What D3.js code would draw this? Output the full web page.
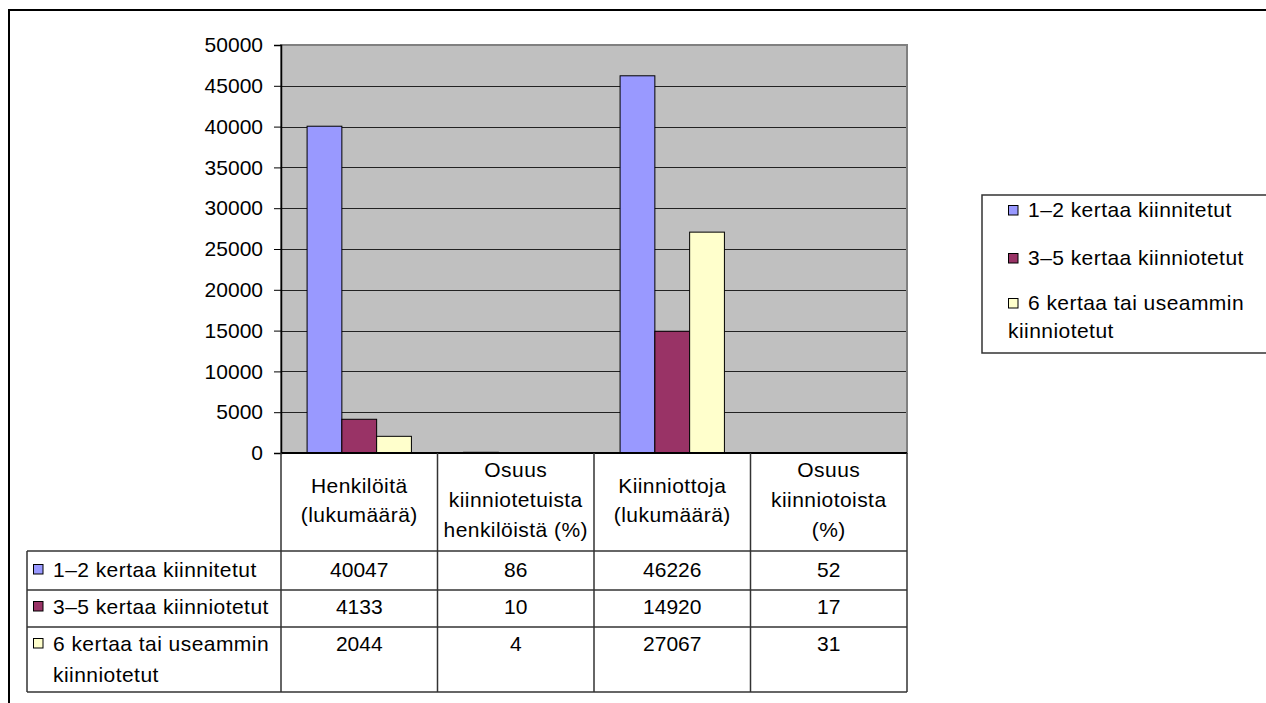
<!DOCTYPE html>
<html>
<head>
<meta charset="utf-8">
<script src="https://cdn.jsdelivr.net/npm/d3@7"></script>
<style>
  html, body { margin: 0; padding: 0; background: #fff; }
  svg { display: block; font-family: "Liberation Sans", Arial, sans-serif; }
  .word { letter-spacing: 0.45px; }
</style>
</head>
<body>
<svg id="chart" width="1266" height="703"></svg>
<script>
// Column categories (each header may span several lines)
const categories = ["Henkilöitä (lukumäärä)", "Osuus kiinniotetuista henkilöistä (%)", "Kiinniottoja (lukumäärä)", "Osuus kiinniotoista (%)"];
const categoryLines = [
  ["Henkilöitä", "(lukumäärä)"],
  ["Osuus", "kiinniotetuista", "henkilöistä (%)"],
  ["Kiinniottoja", "(lukumäärä)"],
  ["Osuus", "kiinniotoista", "(%)"]
];

// Series
const seriesNames = ["1–2 kertaa kiinnitetut", "3–5 kertaa kiinniotetut", "6 kertaa tai useammin kiinniotetut"];
const seriesLines = [
  ["1–2 kertaa kiinnitetut"],
  ["3–5 kertaa kiinniotetut"],
  ["6 kertaa tai useammin", "kiinniotetut"]
];
const seriesColors = ["#9999ff", "#993366", "#ffffcc"];

// Values per series, one per category
const once12 = [40047, 86, 46226, 52];
const times35 = [4133, 10, 14920, 17];
const times6plus = [2044, 4, 27067, 31];
const seriesValues = [once12, times35, times6plus];

// Y axis ticks
const yTicks = [0, 5000, 10000, 15000, 20000, 25000, 30000, 35000, 40000, 45000, 50000];

const svg = d3.select("#chart");
const FONT = 21;

// Outer frame
svg.append("rect")
  .attr("x", 9).attr("y", 10)
  .attr("width", 1300).attr("height", 800)
  .attr("fill", "none").attr("stroke", "#000").attr("stroke-width", 2);

const plot = { left: 281, right: 907, top: 45, bottom: 453 };

const x0 = d3.scaleBand().domain(categories).range([plot.left, plot.right]).padding(0);
const bw = x0.bandwidth();
const x1 = d3.scaleBand().domain(seriesNames)
  .range([bw * 0.75 / 4.5, bw * 3.75 / 4.5]).padding(0);
const y = d3.scaleLinear().domain([0, 50000]).range([plot.bottom, plot.top]);

// Plot background
svg.append("rect")
  .attr("x", plot.left).attr("y", plot.top)
  .attr("width", plot.right - plot.left).attr("height", plot.bottom - plot.top)
  .attr("fill", "#c0c0c0");

// Gridlines
svg.append("g").selectAll("line")
  .data(yTicks.filter(d => d > 0))
  .join("line")
  .attr("x1", plot.left).attr("x2", plot.right)
  .attr("y1", d => Math.round(y(d)) + 0.5).attr("y2", d => Math.round(y(d)) + 0.5)
  .attr("stroke", "#222").attr("stroke-width", 1);

// Plot border
svg.append("rect")
  .attr("x", plot.left).attr("y", plot.top)
  .attr("width", plot.right - plot.left).attr("height", plot.bottom - plot.top)
  .attr("fill", "none").attr("stroke", "#808080").attr("stroke-width", 2);

// Bars
const groups = svg.append("g").selectAll("g")
  .data(categories)
  .join("g")
  .attr("transform", d => `translate(${x0(d)},0)`);

groups.selectAll("rect")
  .data((c, ci) => seriesNames.map((s, si) => ({ s, si, v: seriesValues[si][ci] })))
  .join("rect")
  .attr("x", d => x1(d.s))
  .attr("y", d => y(d.v))
  .attr("width", x1.bandwidth())
  .attr("height", d => y(0) - y(d.v))
  .attr("fill", d => seriesColors[d.si])
  .attr("stroke", "#000").attr("stroke-width", 1);

// Y axis
const yAxis = svg.append("g")
  .attr("transform", `translate(${plot.left},0)`)
  .call(d3.axisLeft(y).tickValues(yTicks).tickSize(7).tickPadding(11).tickFormat(d3.format("d")));
yAxis.select(".domain").attr("stroke", "#000").attr("stroke-width", 1.5);
yAxis.selectAll(".tick line").attr("stroke", "#000");
yAxis.selectAll(".tick text")
  .attr("font-size", FONT).attr("fill", "#000")
  .attr("font-family", "Liberation Sans, Arial, sans-serif");

// Data table
const tableLeft = 27;
const rowEdges = [551, 590, 627, 692];
const lineColor = "#333";
const table = svg.append("g");

// zero axis line
table.append("line")
  .attr("x1", plot.left).attr("x2", plot.right)
  .attr("y1", plot.bottom).attr("y2", plot.bottom)
  .attr("stroke", "#000").attr("stroke-width", 2);

// vertical lines at category boundaries
const colEdges = categories.map(c => x0(c)).concat([plot.right]);
table.selectAll(".vcol")
  .data(colEdges)
  .join("line")
  .attr("x1", d => d).attr("x2", d => d)
  .attr("y1", plot.bottom).attr("y2", rowEdges[rowEdges.length - 1])
  .attr("stroke", lineColor).attr("stroke-width", 1.5);

// left edge of the label column
table.append("line")
  .attr("x1", tableLeft).attr("x2", tableLeft)
  .attr("y1", rowEdges[0]).attr("y2", rowEdges[rowEdges.length - 1])
  .attr("stroke", lineColor).attr("stroke-width", 1.5);

// row lines
table.selectAll(".hrow")
  .data(rowEdges)
  .join("line")
  .attr("x1", tableLeft).attr("x2", plot.right)
  .attr("y1", d => d).attr("y2", d => d)
  .attr("stroke", lineColor).attr("stroke-width", 1.5);

// column headers
const headerBaselines = { 2: [493, 522], 3: [477, 507, 537] };
categories.forEach((c, ci) => {
  const lines = categoryLines[ci];
  const bl = headerBaselines[lines.length];
  lines.forEach((t, li) => {
    table.append("text")
      .attr("class", "word")
      .attr("x", x0(c) + bw / 2).attr("y", bl[li])
      .attr("text-anchor", "middle").attr("font-size", FONT).attr("fill", "#000")
      .text(t);
  });
});

// rows: key + label + values
const rowBaselines = [577, 614, 651];
seriesNames.forEach((s, si) => {
  const base = rowBaselines[si];
  table.append("rect")
    .attr("x", 33.5).attr("y", base - 12.5)
    .attr("width", 9.5).attr("height", 9.5)
    .attr("fill", seriesColors[si]).attr("stroke", "#000").attr("stroke-width", 1);
  seriesLines[si].forEach((t, li) => {
    table.append("text")
      .attr("class", "word")
      .attr("x", 53).attr("y", base + li * 30.5)
      .attr("font-size", FONT).attr("fill", "#000")
      .text(t);
  });
  categories.forEach((c, ci) => {
    table.append("text")
      .attr("x", x0(c) + bw / 2).attr("y", base)
      .attr("text-anchor", "middle").attr("font-size", FONT).attr("fill", "#000")
      .text(seriesValues[si][ci]);
  });
});

// Legend
const legend = svg.append("g");
legend.append("rect")
  .attr("x", 982).attr("y", 195)
  .attr("width", 400).attr("height", 158)
  .attr("fill", "#fff").attr("stroke", "#333").attr("stroke-width", 1.5);

const legendBaselines = [217, 265, 310];
seriesNames.forEach((s, si) => {
  const base = legendBaselines[si];
  legend.append("rect")
    .attr("x", 1008.5).attr("y", base - 11.5)
    .attr("width", 9.5).attr("height", 9.5)
    .attr("fill", seriesColors[si]).attr("stroke", "#000").attr("stroke-width", 1);
  seriesLines[si].forEach((t, li) => {
    legend.append("text")
      .attr("class", "word")
      .attr("x", li === 0 ? 1028 : 1028 - 20).attr("y", base + li * 28)
      .attr("font-size", FONT).attr("fill", "#000")
      .text(t);
  });
});
</script>
</body>
</html>
